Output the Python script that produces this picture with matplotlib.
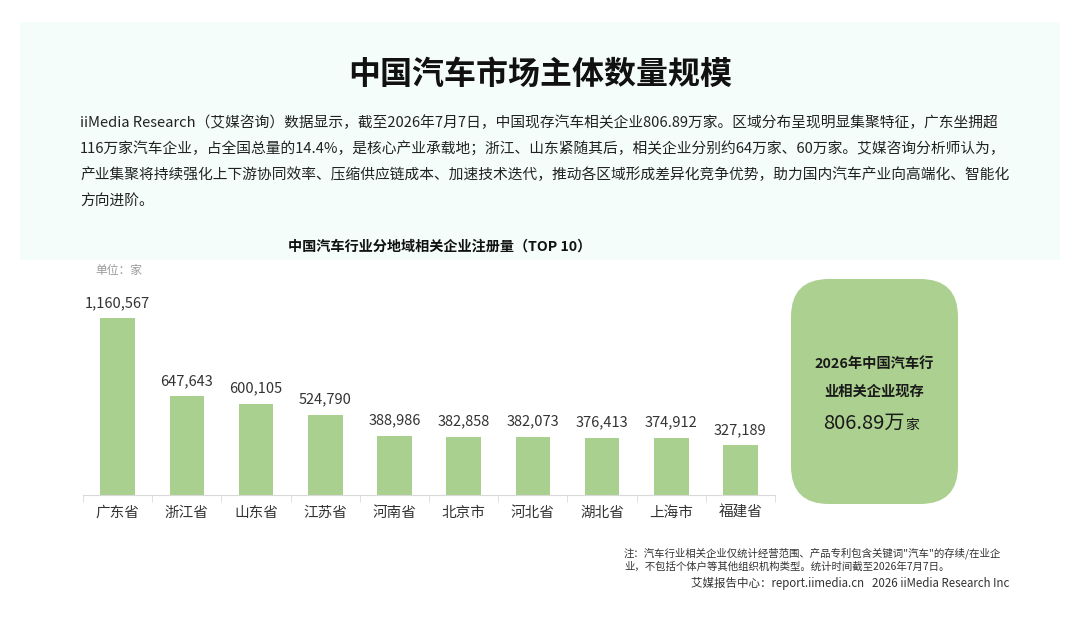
import numpy as np
import matplotlib.pyplot as plt
from matplotlib.patches import FancyBboxPatch, Rectangle

plt.rcParams['font.family'] = ['Noto Sans CJK SC', 'DejaVu Sans']

# data
provinces = ['广东省', '浙江省', '山东省', '江苏省', '河南省',
             '北京市', '河北省', '湖北省', '上海市', '福建省']
companies = [1160567, 647643, 600105, 524790, 388986,
             382858, 382073, 376413, 374912, 327189]

title = '中国汽车市场主体数量规模'
summary_lines = [
    'iiMedia Research（艾媒咨询）数据显示，截至2026年7月7日，中国现存汽车相关企业806.89万家。区域分布呈现明显集聚特征，广东坐拥超',
    '116万家汽车企业，占全国总量的14.4%，是核心产业承载地；浙江、山东紧随其后，相关企业分别约64万家、60万家。艾媒咨询分析师认为，',
    '产业集聚将持续强化上下游协同效率、压缩供应链成本、加速技术迭代，推动各区域形成差异化竞争优势，助力国内汽车产业向高端化、智能化',
    '方向进阶。',
]
chart_title = '中国汽车行业分地域相关企业注册量（TOP 10）'
notes = [
    '注：汽车行业相关企业仅统计经营范围、产品专利包含关键词"汽车"的存续/在业企',
    '业，不包括个体户等其他组织机构类型。统计时间截至2026年7月7日。',
]
source = '艾媒报告中心：report.iimedia.cn   2026 iiMedia Research Inc'

W, H = 1080, 623
BAR_GREEN = '#a9d08e'

fig = plt.figure(figsize=(W / 100, H / 100), dpi=100)
fig.patch.set_facecolor('white')


def px(x, y):
    # pixel coords (top-left origin) -> figure fraction
    return x / W, 1 - y / H


# light header panel
fig.patches.append(Rectangle(px(20, 260), 1040 / W, 238 / H, transform=fig.transFigure,
                             facecolor='#f4fdf9', edgecolor='none', zorder=0))

fig.text(*px(540, 75), title, ha='center', va='center', fontsize=23,
         fontweight='bold', color='#111111')

for i, line in enumerate(summary_lines):
    fig.text(*px(80, 123 + 26 * i), line, ha='left', va='center',
             fontsize=10.6, color='#222222')

fig.text(*px(440, 247), chart_title, ha='center', va='center', fontsize=10.2,
         fontweight='bold', color='#111111')
fig.text(*px(95, 270), '单位：家', ha='left', va='center', fontsize=8.5, color='#9a9a9a')

# bar chart
ymax = 1.28e6
ax = fig.add_axes([83 / W, (H - 495) / H, 692 / W, 195 / H])
x = np.arange(len(provinces))
ax.bar(x, companies, width=0.5, color=BAR_GREEN, zorder=2)
ax.set_xlim(-0.5, len(provinces) - 0.5)
ax.set_ylim(0, ymax)
ax.set_facecolor('none')
for s in ['top', 'right', 'left']:
    ax.spines[s].set_visible(False)
ax.spines['bottom'].set_color('#d9d9d9')
ax.set_yticks([])
ax.set_xticks(x)
ax.set_xticklabels(provinces, fontsize=10.5, color='#333333')
ax.tick_params(axis='x', which='major', length=0, pad=8)
ax.set_xticks(np.arange(-0.5, len(provinces), 1), minor=True)
ax.tick_params(axis='x', which='minor', length=5, color='#d9d9d9')
for xi, v in zip(x, companies):
    ax.annotate(f'{v:,}', (xi, v), xytext=(0, 6), textcoords='offset points',
                ha='center', va='bottom', fontsize=10.5, color='#333333')

# summary box
box = FancyBboxPatch(px(791, 504), 167 / W, 225 / H, transform=fig.transFigure,
                     boxstyle='round,pad=0,rounding_size=0.035',
                     mutation_aspect=W / H,
                     facecolor='#acd08f', edgecolor='none', zorder=1)
fig.patches.append(box)
fig.text(*px(874, 364), '2026年中国汽车行', ha='center', va='center',
         fontsize=10.3, fontweight='bold', color='#1a1a1a')
fig.text(*px(874, 392), '业相关企业现存', ha='center', va='center',
         fontsize=10.3, fontweight='bold', color='#1a1a1a')
fig.text(*px(905, 423), '806.89万', ha='right', va='center',
         fontsize=14.5, color='#1a1a1a')
fig.text(*px(905, 425), '家', ha='left', va='center', fontsize=10, color='#1a1a1a')

for i, line in enumerate(notes):
    fig.text(*px(624, 553 + 14 * i), line, ha='left', va='center',
             fontsize=7.5, color='#333333')
fig.text(*px(1009, 583), source, ha='right', va='center', fontsize=8.3, color='#333333')

fig.savefig('out.png', dpi=100, facecolor='white')
